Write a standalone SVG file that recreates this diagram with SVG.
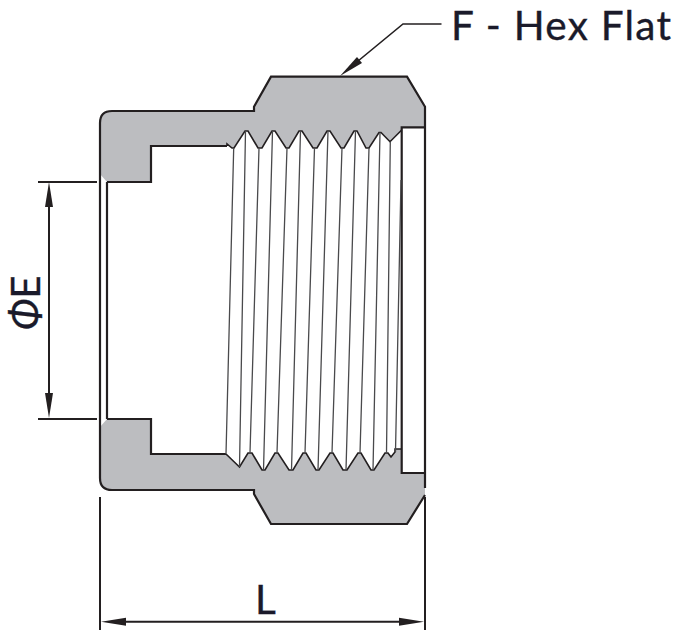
<svg xmlns="http://www.w3.org/2000/svg" width="680" height="639" viewBox="0 0 680 639">
<style>
.body{fill:#bcbdc0;stroke:none}
.edge{fill:none;stroke:#231f20;stroke-width:2.2;stroke-linejoin:miter}
.thin{fill:none;stroke:#231f20;stroke-width:1.6}
.thread{fill:none;stroke:#4a4a4c;stroke-width:1.3}
.dim{fill:none;stroke:#231f20;stroke-width:2}
.head{fill:#231f20;stroke:none}
.label{font-family:"Lato","Open Sans",sans-serif;font-size:40.5px;fill:#1a1a2a;stroke:#1a1a2a;stroke-width:.35}
</style>
<rect width="680" height="639" fill="#fff"/>
<g id="cap-body">
<path class="body" d="M100,123Q100,111 112,111H254V106.7L271,76.7H407L425,106.7V127.3H401.7V130L390,141.7L381,132.5H379L369,148H366L357,131H354L344,148H341L330,131H327L317,148H313L302,131H299L289,148H286L275,131H272L262,148H258L248,131H245L234,148H232L227,144V146H151V182H107L100,174Z"/>
<path class="body" d="M100,427L107,419H151V454H226L239.5,467L248,453H252L262,470H265L275,453H278L289,470H293L303,453H306L316,470H319L330,453H333L343,470H347L358,453H361L371,470H374L385,453H388L391,457L395,452V449H402V473H425V495L407,524H271L254,494V490H112Q100,490 100,478Z"/>
<path class="edge" d="M100,478V123Q100,111 112,111H254V106.7L271,76.7H407L425,106.7V488"/>
<path class="edge" d="M100,478Q100,490 112,490H254V494L271,524H407L425,495"/>
<path class="edge" d="M425,127.3H401.7V473H425"/>
<path class="edge" d="M107,182V419M107,182H151V146H227M107,419H151V454H226"/>
<path class="thin" d="M227,146V144L232,148H234L245,131H248L258,148H262L272,131H275L286,148H289L299,131H302L313,148H317L327,131H330L341,148H344L354,131H357L366,148H369L379,132.5H381L390,141.7L401.7,130"/>
<path class="thin" d="M226,454L239.5,467L248,453H252L262,470H265L275,453H278L289,470H293L303,453H306L316,470H319L330,453H333L343,470H347L358,453H361L371,470H374L385,453H388L391,457L395,452V449H402"/>
</g>
<g id="thread-lines">
<path class="thread" d="M233.7,148L226,454M245.5,131L239.5,467M259,148L250,453M272.5,131L263.5,470M287,148L277,453M300.5,131L291.5,470M314.5,148L305,453M328,131L318,470M342,148L332,453M355.5,131L346,470M369,148L360,453M380,132.5L373,470M390.3,141.7L386.5,453M401,180L395.5,452"/>
</g>
<g id="connectors">
<path class="dim" d="M38,182H97M38,419H97M49,200V402"/>
<polygon class="head" points="49,182 53,207 45,207"/>
<polygon class="head" points="49,418 53,393 45,393"/>
<path class="dim" d="M100,497V630M425,497V630M120,621.7H405"/>
<polygon class="head" points="101,621.7 126,617.7 126,625.7"/>
<polygon class="head" points="424,621.7 399,617.7 399,625.7"/>
<path class="dim" style="stroke-width:1.6" d="M441.5,24H403L352,66"/>
<polygon class="head" points="340,76 357,57 362,63"/>
</g>
<g id="labels">
<text class="label" x="451" y="39.5" textLength="220" lengthAdjust="spacing">F - Hex Flat</text>
<text class="label" x="255" y="614">L</text>
<text class="label" transform="translate(40,330) rotate(-90)"><tspan font-style="italic">Φ</tspan>E</text>
</g>
</svg>
